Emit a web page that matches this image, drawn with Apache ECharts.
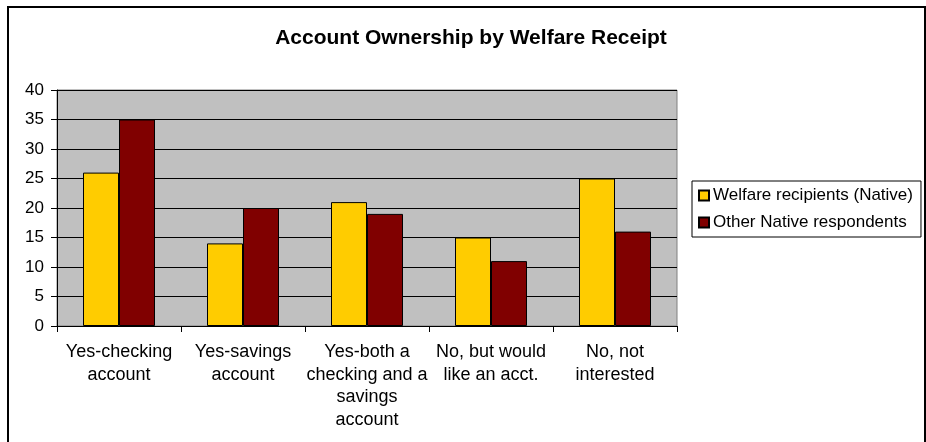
<!DOCTYPE html>
<html>
<head>
<meta charset="utf-8">
<script src="https://cdn.jsdelivr.net/npm/echarts@6/dist/echarts.min.js"></script>
<style>
  html, body { margin: 0; padding: 0; background: #ffffff; }
  #chart { width: 926px; height: 442px; }
</style>
</head>
<body>
<div id="chart"></div>
<script>
// Account ownership answers, by group of respondents
const categories = [
  'Yes-checking\naccount',
  'Yes-savings\naccount',
  'Yes-both a\nchecking and a\nsavings\naccount',
  'No, but would\nlike an acct.',
  'No, not\ninterested'
];
const welfareRecipients = [26, 14, 21, 15, 25];
const otherNative = [35, 20, 19, 11, 16];
const yTicks = [0, 5, 10, 15, 20, 25, 30, 35, 40];

const FONT = '"Liberation Sans", Arial, sans-serif';

const chart = echarts.init(document.getElementById('chart'), null, { renderer: 'canvas' });

chart.setOption({
  backgroundColor: '#ffffff',
  animation: false,
  title: {
    text: 'Account Ownership by Welfare Receipt',
    left: 471,
    top: 28,
    textAlign: 'center',
    padding: 0,
    textStyle: { fontFamily: FONT, fontSize: 21, fontWeight: 'bold', color: '#000000' }
  },
  graphic: [{
    type: 'rect',
    shape: { x: 8, y: 7, width: 917, height: 450 },
    style: { fill: null, stroke: '#000000', lineWidth: 2 },
    silent: true,
    z: 100
  }],
  legend: {
    orient: 'vertical',
    left: 692,
    top: 181,
    width: 229,
    padding: [6, 8, 6, 6],
    itemWidth: 10,
    itemHeight: 10,
    itemGap: 10,
    borderColor: '#000000',
    borderWidth: 1,
    icon: 'rect',
    textStyle: { fontFamily: FONT, fontSize: 17, color: '#000000', padding: [0, 0, 0, -1] },
    data: ['Welfare recipients (Native)', 'Other Native respondents']
  },
  grid: {
    left: 57,
    top: 90,
    width: 620,
    height: 236,
    show: true,
    backgroundColor: '#c0c0c0',
    borderColor: '#808080',
    borderWidth: 1,
    containLabel: false
  },
  xAxis: {
    type: 'category',
    data: categories,
    boundaryGap: true,
    axisLine: { show: true, lineStyle: { color: '#000000', width: 1 } },
    axisTick: { show: true, alignWithLabel: false, length: 6, lineStyle: { color: '#000000' } },
    axisLabel: {
      interval: 0,
      margin: 15,
      fontFamily: FONT,
      fontSize: 18,
      lineHeight: 22.5,
      color: '#000000',
      align: 'center',
      verticalAlign: 'top'
    },
    splitLine: { show: false }
  },
  yAxis: {
    type: 'value',
    min: yTicks[0],
    max: yTicks[yTicks.length - 1],
    interval: yTicks[1] - yTicks[0],
    axisLine: { show: true, lineStyle: { color: '#000000', width: 1 } },
    axisTick: { show: true, length: 6, lineStyle: { color: '#000000' } },
    axisLabel: { margin: 13, fontFamily: FONT, fontSize: 17, color: '#000000' },
    splitLine: { show: true, lineStyle: { color: '#000000', width: 1 } }
  },
  series: [
    {
      name: 'Welfare recipients (Native)',
      type: 'bar',
      data: welfareRecipients,
      barWidth: 36,
      barGap: '0%',
      itemStyle: { color: '#ffcc00', borderColor: '#000000', borderWidth: 1 }
    },
    {
      name: 'Other Native respondents',
      type: 'bar',
      data: otherNative,
      barWidth: 36,
      barGap: '0%',
      itemStyle: { color: '#800000', borderColor: '#000000', borderWidth: 1 }
    }
  ]
});
</script>
</body>
</html>
